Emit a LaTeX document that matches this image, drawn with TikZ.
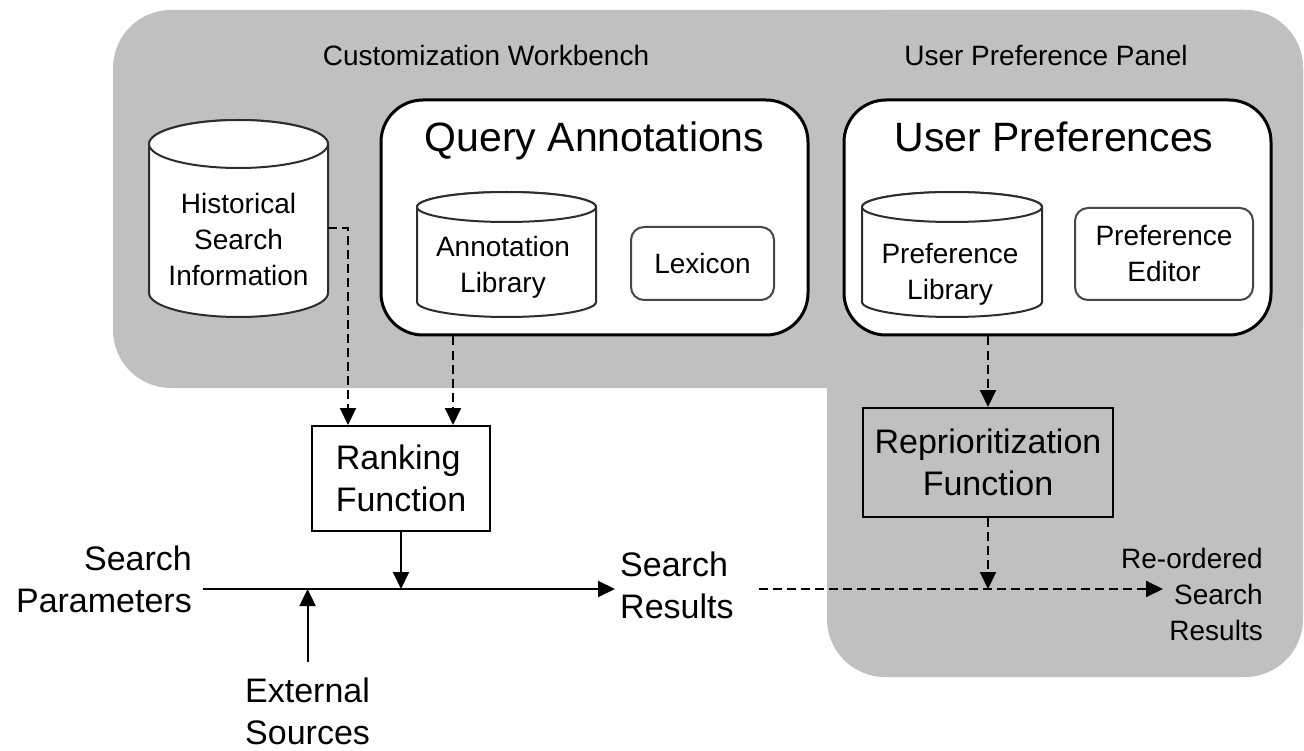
\documentclass[tikz,border=0pt]{standalone}
\usepackage{fontspec}
\setmainfont{Liberation Sans}
\usetikzlibrary{arrows.meta}

\definecolor{panelgray}{RGB}{192,192,192}
\definecolor{drumrim}{RGB}{45,45,45}
\definecolor{toolrim}{RGB}{70,70,70}

% database drum: centre x, top y, bottom y, half width, end-cap radius
\newcommand{\dbdrum}[5]{%
  \filldraw[drumline] ({#1-#4},{#2+#5}) -- ({#1-#4},{#3-#5})
    arc[start angle=180, end angle=360, x radius=#4pt, y radius=#5pt]
    -- ({#1+#4},{#2+#5})
    arc[start angle=0, end angle=180, x radius=#4pt, y radius=#5pt] -- cycle;
  \draw[drumline] (#1,{#2+#5}) ellipse [x radius=#4pt, y radius=#5pt];
}

\begin{document}
\begin{tikzpicture}[x=1pt, y=-1pt,
  lbl/.style={inner sep=0pt, font=\fontsize{28}{36}\selectfont},
  big/.style={inner sep=0pt, font=\fontsize{34}{42}\selectfont},
  heading/.style={inner sep=0pt, font=\fontsize{41}{48}\selectfont},
  group/.style={draw=black, line width=3pt, fill=white, rounded corners=42pt, inner sep=0pt},
  tool/.style={lbl, draw=toolrim, line width=2pt, fill=white, rounded corners=13pt, align=center},
  func/.style={big, draw=black, line width=2pt, align=center},
  drumline/.style={draw=drumrim, line width=2pt, fill=white},
  flow/.style={line width=2pt, -{Triangle[width=16pt,length=17pt]}},
  dflow/.style={flow, dash pattern=on 9pt off 5pt}]

\useasboundingbox (0,0) rectangle (1304,751);
\fill[white] (0,0) rectangle (1304,751);

% grey panels: workbench band across the top joined with the preference panel
\fill[panelgray, rounded corners=58pt] (113,10) rectangle (1303,388);
\fill[panelgray, rounded corners=58pt] (827,10) rectangle (1303,677);

\node[lbl, anchor=north] (cwb) at (486,45) {Customization Workbench};
\node[lbl, anchor=north] (upp) at (1046,45) {User Preference Panel};

% group boxes
\node[group, minimum width=427pt, minimum height=235pt] (qa) at (594.5,217.5) {};
\node[heading, anchor=north] (qatitle) at (594.5,122) {Query Annotations};
\node[group, minimum width=427pt, minimum height=235pt] (up) at (1057.5,217.5) {};
\node[heading, anchor=north] (uptitle) at (1054,122) {User Preferences};

% stores and tools
\dbdrum{238.5}{120}{317}{89.5}{24}
\node[lbl, align=center, minimum width=179pt] (hist) at (238.5,239) {Historical\\Search\\Information};

\dbdrum{506.5}{192}{317}{89.5}{15}
\node[lbl, align=center, anchor=north] (alib) at (503,236) {Annotation\\Library};
\node[tool, minimum width=143pt, minimum height=73pt] (lex) at (702.5,263.5) {Lexicon};

\dbdrum{952}{192}{317}{90}{15}
\node[lbl, align=center, anchor=north] (plib) at (950,243) {Preference\\Library};
\node[tool, minimum width=178pt, minimum height=92pt] (ped) at (1164,254) {Preference\\Editor};

% functions
\node[func, fill=white, align=left, minimum width=178pt, minimum height=105pt] (rank) at (401,478.5) {Ranking\\Function};
\node[func, minimum width=250pt, minimum height=109pt] (rep) at (988,462.5) {Reprioritization\\Function};

% flow labels
\coordinate (axis) at (0,589);
\node[big, align=right, anchor=north east, inner xsep=11pt] (sp) at (203,545.5) {Search\\Parameters};
\node[big, align=left, anchor=north west, inner xsep=5pt] (sr) at (615,551.7) {Search\\Results};
\node[big, align=left, anchor=north west] (es) at (245,678) {External\\Sources};
\node[lbl, align=right, anchor=north east] (ro) at (1263,548) {Re-ordered\\Search\\Results};
\coordinate (rotip) at (1163,589);

% solid flows
\draw[flow] (sp.east |- axis) -- (sr.west |- axis);
\draw[flow] (rank.south) -- (rank.south |- axis);
\draw[flow] ([yshift=16pt]es.north) -- (es.north |- axis);

% dashed flows
\coordinate (rk1) at ([xshift=-53pt]rank.north);
\coordinate (rk2) at ([xshift=52pt]rank.north);
\draw[dflow] ([yshift=11pt]hist.east) -| (rk1);
\draw[dflow] (qa.south -| rk2) -- (rk2);
\draw[dflow] (up.south -| rep.north) -- (rep.north);
\draw[dflow] (rep.south) -- (rep.south |- axis);
\coordinate (dstart) at ([xshift=20pt]sr.east);
\draw[dflow] (dstart |- axis) -- (rotip);
\end{tikzpicture}
\end{document}
